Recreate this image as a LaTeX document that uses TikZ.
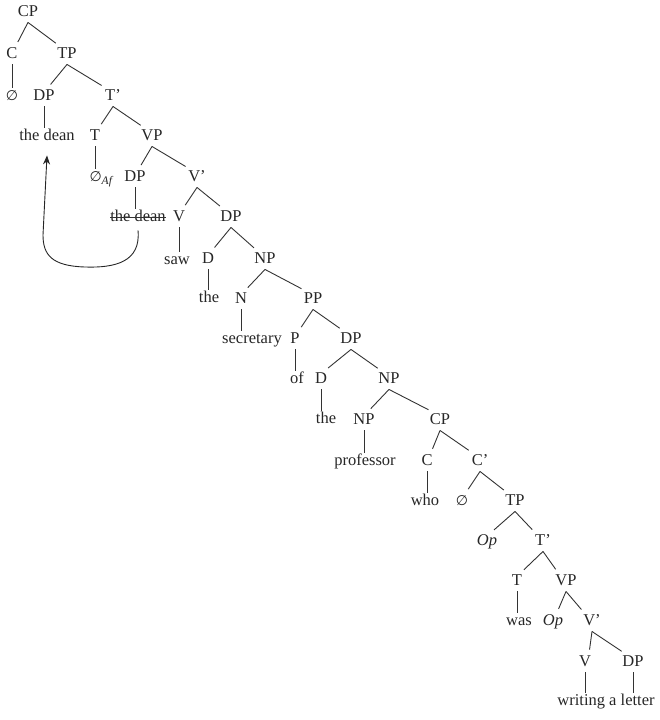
\documentclass[tikz,border=0pt]{standalone}
\usepackage{fontspec}
\setmainfont{Liberation Serif}
\newfontfamily\nulfont{DejaVu Sans}
\usetikzlibrary{arrows.meta}
\begin{document}
\begin{tikzpicture}[x=1pt,y=-1pt,
  lab/.style={font=\fontsize{16.5}{18}\selectfont, text height=11pt, text depth=3.5pt, inner sep=2pt, text=black!85},
  br/.style={draw=black!80, line width=0.9pt},
  mv/.style={draw=black!85, line width=0.9pt, -{Stealth[length=9pt,width=7pt]}}]
\useasboundingbox (0,0) rectangle (660,720);
\newcommand{\nul}{{\nulfont\fontsize{14}{16}\selectfont ∅}}
\node[lab] (cp1) at (28,13) {CP};
\node[lab] (c1) at (12,55) {C};
\node[lab] (tp1) at (67,55) {TP};
\node[lab] (null1) at (12,97) {\nul};
\node[lab] (dp1) at (44,97) {DP};
\node[lab] (tb1) at (113,97) {T'};
\node[lab] (dean1) at (47,137) {the dean};
\node[lab] (t1) at (95,137) {T};
\node[lab] (vp1) at (152,137) {VP};
\node[lab] (af) at (101,178) {\nul\textsubscript{\itshape Af}};
\node[lab] (dp2) at (135,178) {DP};
\node[lab] (vb1) at (197,178) {V'};
\node[lab] (dean2) at (138,218) {the dean};
\node[lab] (v1) at (179,218) {V};
\node[lab] (dp3) at (231,218) {DP};
\node[lab] (saw) at (177,261) {saw};
\node[lab] (d1) at (208,260) {D};
\node[lab] (np1) at (265,260) {NP};
\node[lab] (the1) at (209,299) {the};
\node[lab] (n1) at (241,300) {N};
\node[lab] (pp) at (313,300) {PP};
\node[lab] (secretary) at (252,340) {secretary};
\node[lab] (p) at (295,340) {P};
\node[lab] (dp4) at (351,340) {DP};
\node[lab] (of) at (297,380) {of};
\node[lab] (d2) at (321,380) {D};
\node[lab] (np2) at (389,380) {NP};
\node[lab] (the2) at (326,420) {the};
\node[lab] (np3) at (364,421) {NP};
\node[lab] (cp2) at (440,421) {CP};
\node[lab] (professor) at (365,462) {professor};
\node[lab] (c2) at (427,462) {C};
\node[lab] (cb) at (480,462) {C'};
\node[lab] (who) at (425,502) {who};
\node[lab] (null2) at (462,502) {\nul};
\node[lab] (tp2) at (515,502) {TP};
\node[lab] (op1) at (487,542) {\itshape Op};
\node[lab] (tb2) at (543,542) {T'};
\node[lab] (t2) at (517,582) {T};
\node[lab] (vp2) at (566,582) {VP};
\node[lab] (was) at (519,622) {was};
\node[lab] (op2) at (553,622) {\itshape Op};
\node[lab] (vb2) at (592,622) {V'};
\node[lab] (v2) at (585,663) {V};
\node[lab] (dp5) at (633,663) {DP};
\node[lab] (letter) at (606,702) {writing a letter};
% strike-through
\draw[br, shorten <=2pt, shorten >=2pt] ([yshift=1pt]dean2.west) -- ([yshift=1pt]dean2.east);
% binary branches: left daughters
\foreach \p/\c in {cp1/c1, tp1/dp1, tb1/t1, vp1/dp2, vb1/v1, dp3/d1, np1/n1, pp/p, dp4/d2, np2/np3, cp2/c2, cb/null2, tp2/op1, tb2/t2, vp2/op2, vb2/v2}
  \draw[br, shorten >=4pt] (\p.south) -- ([xshift=4pt]\c.north);
% binary branches: right daughters
\foreach \p/\c in {cp1/tp1, tp1/tb1, tb1/vp1, vp1/vb1, vb1/dp3, dp3/np1, np1/pp, pp/dp4, dp4/np2, np2/cp2, cp2/cb, cb/tp2, tp2/tb2, tb2/vp2, vp2/vb2, vb2/dp5}
  \draw[br, shorten >=4pt] (\p.south) -- ([xshift=-8pt]\c.north);
% unary branches
\foreach \p/\c in {c1/null1, dp1/dean1, t1/af, dp2/dean2, v1/saw, d1/the1, n1/secretary, p/of, d2/the2, np3/professor, c2/who, t2/was, v2/letter, dp5/letter}
  \draw[br] (\p.south) -- (\p.south |- \c.north);
% movement arrow
\coordinate (mstart) at ([yshift=-3pt]dean2.south);
\coordinate (mend) at ([yshift=-9pt]dean1.south);
\draw[mv] (mstart) .. controls (141,262) and (115,268) .. (85,267)
  .. controls (52,266) and (43,255) .. (43,235) -- (mend);
\end{tikzpicture}
\end{document}
